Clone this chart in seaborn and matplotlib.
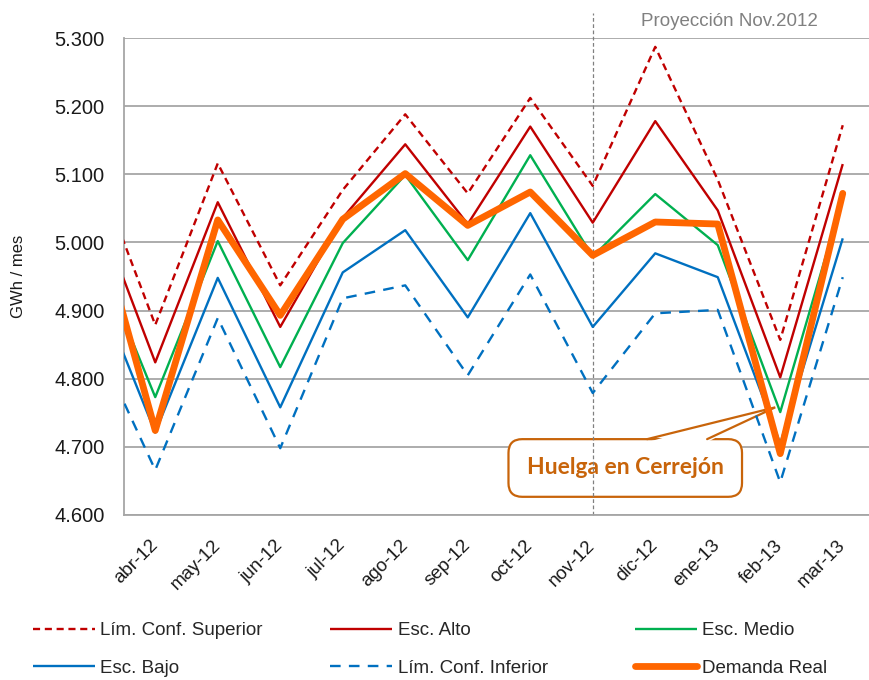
import pandas as pd
import numpy as np
import seaborn as sns
from matplotlib import pyplot as plt

# posicion 0 = mar-12, solo para el tramo que entra por el borde izquierdo
meses = ["mar-12", "abr-12", "may-12", "jun-12", "jul-12", "ago-12", "sep-12",
         "oct-12", "nov-12", "dic-12", "ene-13", "feb-13", "mar-13"]
posiciones = list(range(len(meses)))

lim_sup = [5.121, 4.879, 5.116, 4.937, 5.077, 5.188, 5.072, 5.212, 5.083, 5.287, 5.092, 4.857, 5.172]
esc_alto = [5.066, 4.824, 5.059, 4.876, 5.036, 5.144, 5.027, 5.170, 5.029, 5.178, 5.047, 4.802, 5.115]
esc_medio = [4.997, 4.773, 5.002, 4.817, 4.999, 5.099, 4.974, 5.128, 4.979, 5.071, 4.996, 4.751, 5.065]
esc_bajo = [4.949, 4.721, 4.948, 4.758, 4.956, 5.018, 4.890, 5.043, 4.876, 4.984, 4.949, 4.705, 5.006]
lim_inf = [4.864, 4.666, 4.889, 4.698, 4.918, 4.937, 4.805, 4.953, 4.779, 4.896, 4.901, 4.648, 4.949]
demanda = [5.056, 4.724, 5.033, 4.893, 5.034, 5.101, 5.025, 5.074, 4.981, 5.030, 5.027, 4.690, 5.072]

y_ticks = [4.6, 4.7, 4.8, 4.9, 5.0, 5.1, 5.2, 5.3]

sns.set_theme(style="white")
plt.rcParams['font.family'] = ['Liberation Sans', 'DejaVu Sans']

fig = plt.figure(figsize=(8.69, 6.8), dpi=100)
ax = fig.add_axes([124 / 869, 1 - 515 / 680, 745 / 869, 477 / 680])

series = [
    ("Lím. Conf. Superior", lim_sup, "#C00000", 1.7, (0, (3, 2)), "butt"),
    ("Esc. Alto", esc_alto, "#C00000", 1.7, "-", "butt"),
    ("Esc. Medio", esc_medio, "#00B050", 1.7, "-", "butt"),
    ("Esc. Bajo", esc_bajo, "#0070C0", 1.7, "-", "butt"),
    ("Lím. Conf. Inferior", lim_inf, "#0070C0", 1.7, (0, (4.5, 3.5)), "butt"),
    ("Demanda Real", demanda, "#FF6600", 4.9, "-", "round"),
]
for nombre, valores, color, ancho, estilo, cap in series:
    sns.lineplot(x=posiciones, y=valores, ax=ax, color=color, linewidth=ancho,
                 linestyle=estilo, label=nombre, solid_capstyle=cap, zorder=3)

if ax.get_legend() is not None:
    ax.get_legend().remove()

ax.set_xlim(0.5, 12.42)
ax.set_ylim(4.6, 5.3)
ax.set_xticks(posiciones[1:])
ax.set_xticklabels(meses[1:], rotation=45, ha='right', va='center',
                   rotation_mode='anchor', fontsize=13.5, color='#1a1a1a')
ax.set_yticks(y_ticks)
ax.set_yticklabels([f"{v:.3f}" for v in y_ticks], fontsize=14.5, color='#1a1a1a')
ax.tick_params(axis='both', length=0)
ax.tick_params(axis='y', pad=14)
ax.tick_params(axis='x', pad=20)
ax.set_xlabel("")
ax.set_ylabel("GWh / mes", fontsize=12, labelpad=20, color='#1a1a1a')

ax.yaxis.grid(True, color='#A6A6A6', linewidth=1.3)
ax.xaxis.grid(False)
ax.set_axisbelow(True)
for lado in ['top', 'right']:
    ax.spines[lado].set_visible(False)
for lado in ['left', 'bottom']:
    ax.spines[lado].set_color('#A6A6A6')
    ax.spines[lado].set_linewidth(1.3)

ax.axvline(8, ymin=0, ymax=1 + 25 / 477, color='#808080', linewidth=0.9,
           linestyle=(0, (3, 2)), clip_on=False, zorder=1.5)
fig.text(729 / 869, 1 - 22 / 680, "Proyección Nov.2012", color='#808080',
         fontsize=13.5, ha='center', va='center')

# llamada "Huelga en Cerrejón": caja + punta hacia feb-13
naranja = '#C8640A'
caja_x, caja_y = 8.52, 4.669
punta = (10.92, 4.758)
base = (8.87, 9.83)
caja = ax.text(caja_x, caja_y, "Huelga en Cerrejón", ha='center', va='center',
               fontsize=16.5, fontweight='bold', color=naranja,
               family=['Lato', 'DejaVu Sans'], zorder=1.2,
               bbox=dict(boxstyle='round,pad=0.8,rounding_size=0.6', fc='white',
                         ec=naranja, lw=1.6))
fig.canvas.draw()
bb = caja.get_bbox_patch().get_window_extent()
inv = ax.transData.inverted()
caja_top = inv.transform((0, bb.y1))[1]
caja_in = inv.transform((0, bb.y1 - 3))[1]
ax.fill([base[0], punta[0], base[1]], [caja_in, punta[1], caja_in],
        color='white', lw=0, zorder=1.3)
ax.plot([base[0], punta[0], base[1]], [caja_top, punta[1], caja_top],
        color=naranja, lw=1.6, zorder=1.35, solid_joinstyle='miter')

# leyenda en tres columnas, cada una en su sitio
handles, labels = ax.get_legend_handles_labels()
columnas = [(33, [0, 3]), (330, [1, 4]), (635, [2, 5])]
for x0, idx in columnas:
    fig.legend([handles[i] for i in idx], [labels[i] for i in idx],
               loc='upper left', bbox_to_anchor=(x0 / 869, 1 - 622 / 680),
               frameon=False, fontsize=13.5, handlelength=3.3, handletextpad=0.3,
               labelspacing=1.1, borderpad=0, borderaxespad=0)

fig.savefig("out.png", dpi=100)
